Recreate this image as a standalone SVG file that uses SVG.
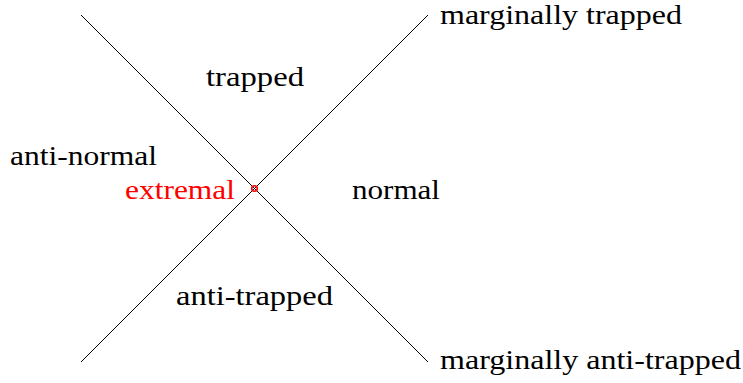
<svg xmlns="http://www.w3.org/2000/svg" width="743" height="383" viewBox="0 0 743 383">
<style>
text{font-family:'Liberation Serif','DejaVu Serif',serif;font-size:28px;fill:#000}
.red{fill:#ff0000}
line{stroke:#000;stroke-width:1}
</style>
<rect width="743" height="383" fill="#fff"/>
<g id="connectors">
<line x1="81" y1="15" x2="428" y2="362"/>
<line x1="81" y1="362" x2="428" y2="15"/>
</g>
<g id="extremal-point">
<circle cx="254.5" cy="188.5" r="2.8" fill="none" stroke="#ff0000" stroke-width="1.6"/>
<text class="red" x="125" y="199" textLength="110" lengthAdjust="spacingAndGlyphs">extremal</text>
</g>
<g id="label-marginally-trapped"><text x="440" y="24" textLength="242" lengthAdjust="spacingAndGlyphs">marginally trapped</text></g>
<g id="label-trapped"><text x="206" y="86" textLength="98" lengthAdjust="spacingAndGlyphs">trapped</text></g>
<g id="label-anti-normal"><text x="10" y="165" textLength="147" lengthAdjust="spacingAndGlyphs">anti-normal</text></g>
<g id="label-normal"><text x="352" y="199" textLength="88" lengthAdjust="spacingAndGlyphs">normal</text></g>
<g id="label-anti-trapped"><text x="176" y="305" textLength="157" lengthAdjust="spacingAndGlyphs">anti-trapped</text></g>
<g id="label-marginally-anti-trapped"><text x="440" y="369" textLength="301" lengthAdjust="spacingAndGlyphs">marginally anti-trapped</text></g>
</svg>
